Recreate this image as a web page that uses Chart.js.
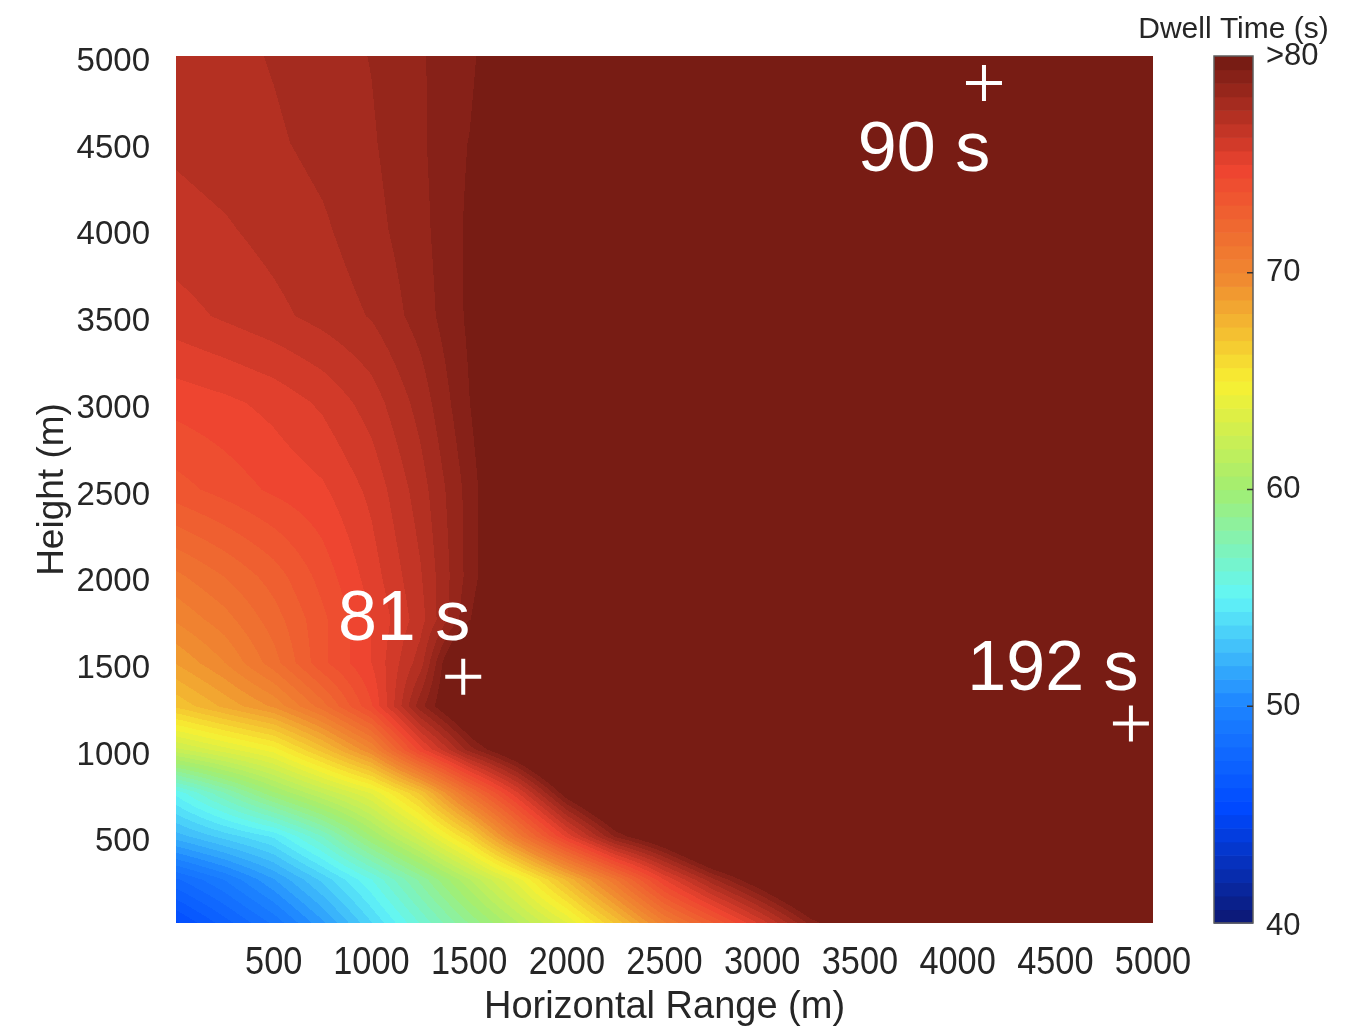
<!DOCTYPE html>
<html>
<head>
<meta charset="utf-8">
<script src="https://cdn.jsdelivr.net/npm/chart.js@4.4.1/dist/chart.umd.min.js"></script>
<style>
  html, body { margin: 0; padding: 0; background: #fff; }
  canvas { display: block; }
</style>
</head>
<body>
<canvas id="chart" width="1366" height="1029"></canvas>
<script>
// dwell time field (s), rows go bottom -> top
const rangeM = [0, 250, 500, 750, 1000, 1250, 1500, 1750, 2000, 2250, 2500, 2750, 3000, 3250, 3500, 4000, 5000];
const heightM = [0, 250, 500, 750, 1000, 1250, 1500, 1750, 2000, 2500, 3000, 3500, 4000, 4500, 5000];
const dwellTime = [
  [45.5, 47.2, 48.9, 51.1, 53.7, 56.3, 58.8, 61.2, 63.7, 67.0, 70.5, 73.1, 75.9, 79.0, 81, 85, 85], // 0
  [48.0, 49.4, 51.2, 53.3, 55.6, 58.3, 61.2, 64.1, 67.6, 71.2, 75.0, 78.0, 80.5, 83, 85, 85, 85],   // 250
  [52.2, 53.4, 54.5, 56.9, 60.0, 62.9, 66.3, 70.9, 75.2, 78.9, 81, 84, 85, 85, 85, 85, 85],         // 500
  [55.2, 57.5, 59.9, 61.9, 63.8, 67.0, 71.6, 75.6, 80.0, 83, 85, 85, 85, 85, 85, 85, 85],           // 750
  [62.3, 63.5, 64.7, 67.2, 70.0, 74.7, 78.4, 81, 84, 85, 85, 85, 85, 85, 85, 85, 85],               // 1000
  [67.0, 68.3, 69.5, 71.6, 74.3, 78.5, 81.5, 85, 85, 85, 85, 85, 85, 85, 85, 85, 85],               // 1250
  [68.8, 70.0, 71.6, 73.6, 75.0, 77.2, 82, 85, 85, 85, 85, 85, 85, 85, 85, 85, 85],                 // 1500
  [70.1, 71.0, 72.2, 73.6, 75.0, 76.6, 79.3, 81.5, 85, 85, 85, 85, 85, 85, 85, 85, 85],             // 1750
  [71.1, 71.9, 72.8, 74.0, 75.3, 76.8, 79.0, 81, 85, 85, 85, 85, 85, 85, 85, 85, 85],               // 2000
  [73.5, 74.0, 74.5, 74.9, 75.8, 77.2, 79.0, 81, 85, 85, 85, 85, 85, 85, 85, 85, 85],               // 2500
  [74.6, 74.85, 75.2, 75.75, 76.55, 77.75, 79.35, 81, 85, 85, 85, 85, 85, 85, 85, 85, 85],          // 3000
  [76.0, 76.35, 76.7, 77.1, 77.55, 78.4, 79.5, 81, 85, 85, 85, 85, 85, 85, 85, 85, 85],             // 3500
  [76.6, 76.8, 77.1, 77.4, 77.9, 78.55, 79.5, 81, 85, 85, 85, 85, 85, 85, 85, 85, 85],              // 4000
  [77.0, 77.2, 77.4, 77.7, 78.05, 78.65, 79.4, 81, 85, 85, 85, 85, 85, 85, 85, 85, 85],             // 4500
  [77.1, 77.3, 77.55, 77.85, 78.15, 78.7, 79.1, 81, 85, 85, 85, 85, 85, 85, 85, 85, 85]             // 5000
];

// jet-like colour map
const colorStops = [40, 45, 50, 55, 60, 65, 70, 75, 80];
const colorHex = ['#0c1a7a', '#0048ff', '#1e86ff', '#62f6f6', '#a2ee72', '#f8f032', '#f08830', '#ee4430', '#781c14'];
const cbTicks = [40, 50, 60, 70, 80];
const cbLabels = ['40', '50', '60', '70', '>80'];
const xTicks = [500, 1000, 1500, 2000, 2500, 3000, 3500, 4000, 4500, 5000];

// marked positions and their notes
const markerX = [1470, 4135, 4887];
const markerY = [1420, 4845, 1150];
const noteX = [1167, 3828, 4488];
const noteY = [1634, 4336, 1345];
const noteText = ['81 s', '90 s', '192 s'];

const NLEV = 64, VMIN = 40, VMAX = 80;
const TXT = '#262626';
const FONT = "'Liberation Sans', Arial, sans-serif";

function hexRgb(h) {
  return [parseInt(h.slice(1, 3), 16), parseInt(h.slice(3, 5), 16), parseInt(h.slice(5, 7), 16)];
}
function cmap(v) {
  if (v <= colorStops[0]) return hexRgb(colorHex[0]);
  for (let i = 1; i < colorStops.length; i++) {
    if (v <= colorStops[i]) {
      const t = (v - colorStops[i - 1]) / (colorStops[i] - colorStops[i - 1]);
      const a = hexRgb(colorHex[i - 1]), b = hexRgb(colorHex[i]);
      return a.map((c, k) => Math.round(c + (b[k] - c) * t));
    }
  }
  return hexRgb(colorHex[colorHex.length - 1]);
}
const palette = [];
for (let i = 0; i < NLEV; i++) palette.push(cmap(VMIN + i * (VMAX - VMIN) / (NLEV - 1)));
function level(v) {
  const i = Math.floor((v - VMIN) / ((VMAX - VMIN) / NLEV));
  return Math.max(0, Math.min(NLEV - 1, i));
}
function locate(arr, v) {
  let i = 0;
  while (i < arr.length - 2 && v > arr[i + 1]) i++;
  const t = Math.max(0, Math.min(1, (v - arr[i]) / (arr[i + 1] - arr[i])));
  return [i, t];
}

const fieldPlugin = {
  id: 'field',
  beforeDatasetsDraw(chart) {
    const { ctx, chartArea: a, scales: { x, y } } = chart;
    const w = Math.round(a.right - a.left), h = Math.round(a.bottom - a.top);
    const off = document.createElement('canvas');
    off.width = w; off.height = h;
    const octx = off.getContext('2d');
    const img = octx.createImageData(w, h);
    const cols = [], rows = [];
    for (let i = 0; i < w; i++) cols.push(locate(rangeM, x.getValueForPixel(a.left + i + 0.5)));
    for (let j = 0; j < h; j++) rows.push(locate(heightM, y.getValueForPixel(a.top + j + 0.5)));
    for (let j = 0; j < h; j++) {
      const [iy, u] = rows[j];
      const r0 = dwellTime[iy], r1 = dwellTime[iy + 1];
      for (let i = 0; i < w; i++) {
        const [ix, t] = cols[i];
        const v = (r0[ix] * (1 - t) + r0[ix + 1] * t) * (1 - u) + (r1[ix] * (1 - t) + r1[ix + 1] * t) * u;
        const c = palette[level(v)];
        const p = (j * w + i) * 4;
        img.data[p] = c[0]; img.data[p + 1] = c[1]; img.data[p + 2] = c[2]; img.data[p + 3] = 255;
      }
    }
    octx.putImageData(img, 0, 0);
    ctx.drawImage(off, a.left, a.top, w, h);
  }
};

const notePlugin = {
  id: 'notes',
  afterDatasetsDraw(chart) {
    const { ctx, scales: { x, y } } = chart;
    ctx.save();
    ctx.fillStyle = '#ffffff';
    ctx.font = '70px ' + FONT;
    ctx.textAlign = 'center';
    ctx.textBaseline = 'alphabetic';
    noteText.forEach((s, i) => ctx.fillText(s, x.getPixelForValue(noteX[i]), y.getPixelForValue(noteY[i])));
    ctx.restore();
  }
};

// x tick labels are a narrow face in the original, so squeeze them
const xLabelPlugin = {
  id: 'xlabels',
  afterDraw(chart) {
    const { ctx, scales: { x } } = chart;
    ctx.save();
    ctx.fillStyle = TXT;
    ctx.font = '39px ' + FONT;
    ctx.textAlign = 'center';
    ctx.textBaseline = 'alphabetic';
    xTicks.forEach(v => {
      ctx.save();
      ctx.translate(x.getPixelForValue(v), x.top + 51);
      ctx.scale(0.88, 1);
      ctx.fillText(String(v), 0, 0);
      ctx.restore();
    });
    ctx.restore();
  }
};

const colorbarPlugin = {
  id: 'colorbar',
  afterDraw(chart) {
    const { ctx, scales: { cb } } = chart;
    const barL = cb.left + 61, barW = 39;
    const step = (VMAX - VMIN) / NLEV;
    ctx.save();
    for (let i = 0; i < NLEV; i++) {
      const c = palette[i];
      const top = cb.getPixelForValue(VMIN + (i + 1) * step);
      const bot = cb.getPixelForValue(VMIN + i * step);
      ctx.fillStyle = 'rgb(' + c.join(',') + ')';
      ctx.fillRect(barL, top, barW, bot - top + 0.6);
    }
    ctx.strokeStyle = '#5e5e5e';
    ctx.lineWidth = 1.5;
    ctx.strokeRect(barL, cb.top, barW, cb.bottom - cb.top);
    ctx.strokeStyle = '#333333';
    cbTicks.slice(1, -1).forEach(v => {
      const yy = cb.getPixelForValue(v);
      ctx.beginPath();
      ctx.moveTo(barL + barW - 6, yy);
      ctx.lineTo(barL + barW, yy);
      ctx.stroke();
    });
    ctx.fillStyle = TXT;
    ctx.font = '31px ' + FONT;
    ctx.textAlign = 'left';
    ctx.textBaseline = 'middle';
    cbTicks.forEach((v, i) => ctx.fillText(cbLabels[i], barL + barW + 13, cb.getPixelForValue(v) + (i === 0 ? 3 : 0)));
    ctx.font = '30px ' + FONT;
    ctx.textAlign = 'center';
    ctx.textBaseline = 'alphabetic';
    ctx.fillText('Dwell Time (s)', barL + barW / 2, cb.top - 18);
    ctx.restore();
  }
};

Chart.defaults.font.family = FONT;
Chart.defaults.color = TXT;

new Chart(document.getElementById('chart'), {
  type: 'scatter',
  data: {
    datasets: [{
      data: markerX.map((v, i) => ({ x: v, y: markerY[i] })),
      pointStyle: 'cross',
      pointRadius: 18,
      pointBorderWidth: 4,
      borderWidth: 4,
      borderColor: '#ffffff',
      backgroundColor: '#ffffff'
    }]
  },
  options: {
    responsive: false,
    animation: false,
    events: [],
    layout: { padding: { top: 56, left: 0, right: 0, bottom: 0 } },
    plugins: { legend: { display: false }, tooltip: { enabled: false } },
    scales: {
      x: {
        type: 'linear', position: 'bottom', min: 0, max: 5000,
        grid: { display: false }, border: { display: false },
        ticks: { display: false, stepSize: 500 },
        title: {
          display: true, text: 'Horizontal Range (m)', color: TXT, padding: { top: 0, bottom: -1 },
          font: { size: 38 }
        },
        afterFit: s => { s.height = 106; }
      },
      y: {
        type: 'linear', position: 'left', min: 0, max: 5000,
        grid: { display: false }, border: { display: false },
        ticks: {
          stepSize: 500, autoSkip: false, padding: 18, labelOffset: 6, color: TXT, font: { size: 33 },
          callback: v => v === 0 ? '' : String(v)
        },
        title: { display: true, text: 'Height (m)', color: TXT, padding: { top: 31, bottom: 0 }, font: { size: 37 } },
        afterFit: s => { s.width = 176; }
      },
      cb: {
        type: 'linear', axis: 'y', position: 'right', min: VMIN, max: VMAX,
        grid: { display: false }, border: { display: false },
        ticks: { display: false },
        afterFit: s => { s.width = 213; }
      }
    }
  },
  plugins: [fieldPlugin, notePlugin, xLabelPlugin, colorbarPlugin]
});
</script>
</body>
</html>
